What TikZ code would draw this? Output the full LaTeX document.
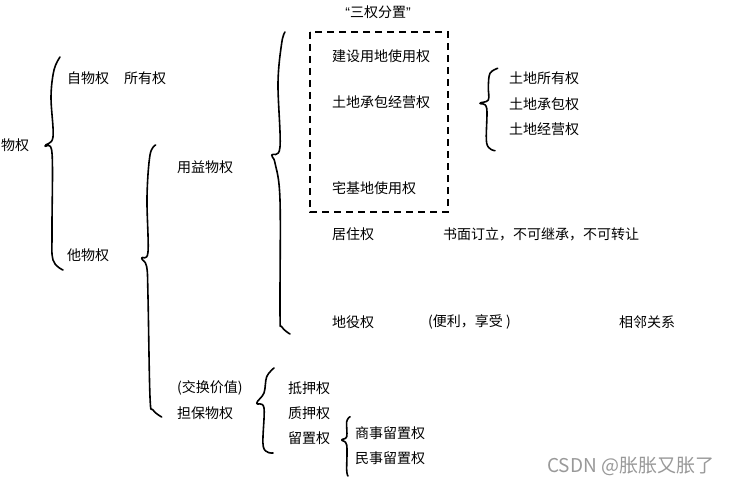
\documentclass[tikz,border=0pt]{standalone}
\usepackage{fontspec}
\setmainfont{Noto Sans CJK SC}
\newfontfamily\quotefont{Liberation Sans}
\begin{document}
\begin{tikzpicture}[x=1pt,y=-1pt,
  lbl/.style={anchor=west,inner sep=0pt,font=\fontsize{14}{16}\selectfont,text=black},
  brace/.style={line width=1.6pt,line cap=round,line join=round},
  wm/.style={anchor=west,inner sep=0pt,font=\fontsize{19}{21}\selectfont,text=black!40}]
\useasboundingbox[fill=white] (0,0) rectangle (730,489);
% braces
\draw[brace] plot[smooth,tension=0.6] coordinates {(60,57) (54,70) (51,97) (53,137) (45,146) (52,153) (52,230) (53,260) (63,270)};
\draw[brace] plot[smooth,tension=0.6] coordinates {(155.7,145) (150,155) (147,197) (148,252) (141.7,258) (146.7,266.7) (148,297) (150,397) (153,410) (161.7,417)};
\draw[brace] plot[smooth,tension=0.6] coordinates {(285,32) (281.7,43) (278,83) (280,147) (271.7,155) (275,163) (280,200) (280,313) (281.7,326.7) (290,334)};
\draw[brace] plot[smooth,tension=0.6] coordinates {(497.7,68.3) (490,73.3) (488.3,86.7) (488.3,100) (480,103.3) (486.7,108.3) (486.7,143.3) (495,150.7)};
\draw[brace] plot[smooth,tension=0.6] coordinates {(274,368) (266.7,376.7) (264,393) (256.7,403.3) (264,408) (263.3,446.7) (273,453)};
\draw[brace] plot[smooth,tension=0.6] coordinates {(350,416.7) (346.7,421.7) (346.7,436.7) (341.7,440) (346.7,445) (346.7,470) (348,476)};
% dashed box
\draw[line width=1.5pt,dash pattern=on 7pt off 5pt] (310,32) rectangle (448,212);
% labels
\node[lbl] (wq) at (1,145) {物权};
\node[lbl] (zwq) at (67,78) {自物权};
\node[lbl] (syq) at (124,78) {所有权};
\node[lbl] (twq) at (67,255) {他物权};
\node[lbl] (yywq) at (177,167) {用益物权};
\node[lbl] (jhjz) at (177,388) {(交换价值)};
\node[lbl] (dbwq) at (177,413) {担保物权};
\node[lbl,anchor=center] (sqfz) at (378,12) {{\quotefont “}三权分置{\quotefont ”}};
\node[lbl] (jsyd) at (332,56) {建设用地使用权};
\node[lbl] (tdcbjy) at (332,102) {土地承包经营权};
\node[lbl] (zjd) at (332,188) {宅基地使用权};
\node[lbl] (tdsy) at (509,78) {土地所有权};
\node[lbl] (tdcb) at (509,104) {土地承包权};
\node[lbl] (tdjy) at (509,129) {土地经营权};
\node[lbl] (jzq) at (332,234) {居住权};
\node[lbl] (smdl) at (443,234) {书面订立，不可继承，不可转让};
\node[lbl] (dyq) at (332,322) {地役权};
\node[lbl] (bl) at (428,322) {(便利，享受 )};
\node[lbl] (xl) at (619,322) {相邻关系};
\node[lbl] (dy) at (288,388) {抵押权};
\node[lbl] (zy) at (288,413) {质押权};
\node[lbl] (lz) at (288,438) {留置权};
\node[lbl] (sslz) at (355,433) {商事留置权};
\node[lbl] (mslz) at (355,458) {民事留置权};
\node[wm] (mark) at (547,466) {CSDN @胀胀又胀了};
\end{tikzpicture}
\end{document}
